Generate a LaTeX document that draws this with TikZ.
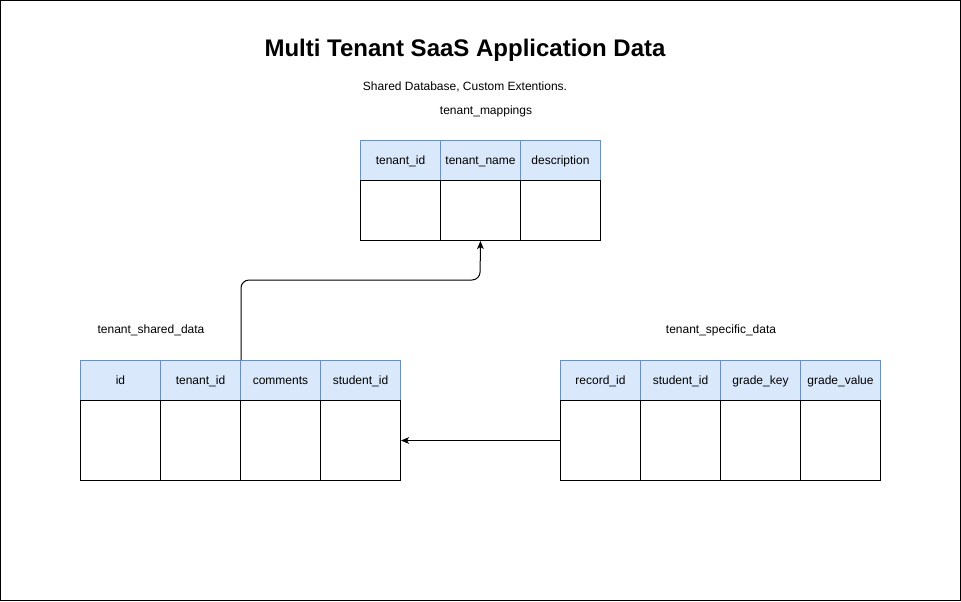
\documentclass[tikz,border=0pt]{standalone}
\usepackage{fontspec}
\setmainfont{Liberation Sans}
\usetikzlibrary{positioning, arrows.meta, matrix}
\definecolor{headfill}{HTML}{DAE8FC}
\definecolor{headline}{HTML}{6C8EBF}
\tikzset{>={Stealth[length=6pt, width=5pt, inset=1.5pt]}, x=0.75pt, y=-0.75pt}

\begin{document}
\begin{tikzpicture}[line width=0.75pt, font=\fontsize{9}{11}\selectfont,
head/.style={rectangle, draw=headline, fill=headfill, minimum width=60pt, minimum height=30pt, inner sep=0pt, text height=1.6ex, text depth=0.4ex},
body/.style={rectangle, draw=black, minimum width=60pt, minimum height=60pt, inner sep=0pt},
table/.style={matrix of nodes, anchor=north west, inner sep=0pt, row sep=-\pgflinewidth, column sep=-\pgflinewidth, nodes in empty cells, row 1/.style={nodes={head}}, row 2/.style={nodes={body}}},
caption/.style={inner sep=1pt}]
    \useasboundingbox (0,0) rectangle (961,601);
    \draw (0.5,0.5) rectangle (960.5,600.5);

    \node (title) at (465,50) {\fontsize{18}{22}\selectfont\bfseries Multi Tenant SaaS Application Data};
    \node[caption] (subtitle) at (465,87) {Shared Database, Custom Extentions.};

    \matrix (mappings) [table, row 2/.style={nodes={body, minimum height=45pt}}] at (359.5,139.5)
    {
    tenant\_id & tenant\_name & description \\
     & & \\};
    \node[caption] (mappingslabel) at (486,111) {tenant\_mappings};

    \matrix (shared) [table] at (79.5,359.5)
    {
    id & tenant\_id & comments & student\_id \\
     & & & \\};
    \node[caption] (sharedlabel) at (151,330) {tenant\_shared\_data};

    \matrix (specific) [table] at (559.5,359.5)
    {
    record\_id & student\_id & grade\_key & grade\_value \\
     & & & \\};
    \node[caption] (specificlabel) at (721,330) {tenant\_specific\_data};

    \coordinate (turn) at (480,280);
    \draw[->, rounded corners=6pt] (shared-1-2.north east) |- (turn) -- (mappings-2-2.south);
    \draw[->] (specific-2-1.west) -- (shared-2-4.east);
\end{tikzpicture}
\end{document}
